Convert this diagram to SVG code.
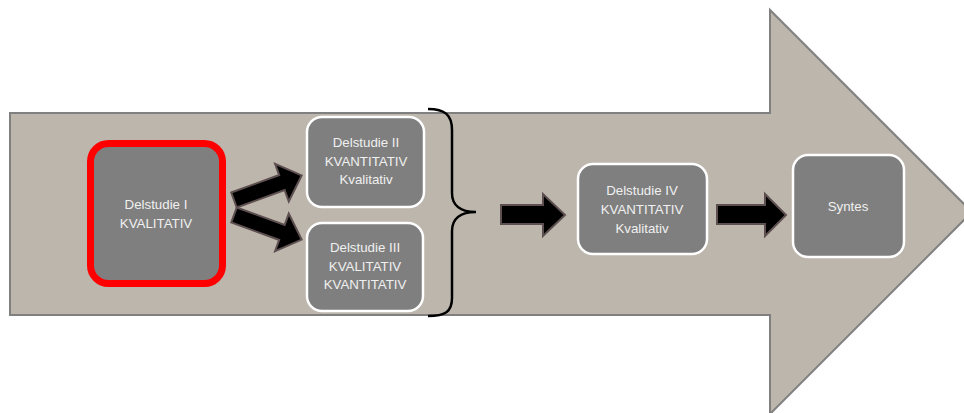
<svg xmlns="http://www.w3.org/2000/svg" width="964" height="413" viewBox="0 0 964 413">
<style>
.box{fill:#7f7f7f;stroke:#ffffff;stroke-width:2.5}
.lbl{font-family:"Liberation Sans",Arial,sans-serif;font-size:13.3px;fill:#f0f0f0;text-anchor:middle}
.arr{fill:#000000;stroke:#5e5050;stroke-width:2;stroke-linejoin:miter}
</style>
<rect width="964" height="413" fill="#ffffff"/>
<g id="main-arrow">
<polygon points="10,113 770,113 770,10 972,212 770,414 770,315 10,315" fill="#bdb6ad" stroke="#808080" stroke-width="2"/>
</g>
<g id="node-delstudie-1">
<rect x="90.5" y="143.5" width="132" height="140" rx="18" fill="#7f7f7f" stroke="#ff0000" stroke-width="7"/>
<text class="lbl" x="156" y="209">Delstudie I</text>
<text class="lbl" x="156" y="228">KVALITATIV</text>
</g>
<g id="node-delstudie-2">
<rect class="box" x="307" y="117" width="117" height="90" rx="15"/>
<text class="lbl" x="366" y="147">Delstudie II</text>
<text class="lbl" x="366" y="166">KVANTITATIV</text>
<text class="lbl" x="366" y="184">Kvalitativ</text>
</g>
<g id="node-delstudie-3">
<rect class="box" x="307" y="223" width="116" height="88" rx="15"/>
<text class="lbl" x="365" y="252">Delstudie III</text>
<text class="lbl" x="365" y="271">KVALITATIV</text>
<text class="lbl" x="365" y="289">KVANTITATIV</text>
</g>
<g id="node-delstudie-4">
<rect class="box" x="578" y="164" width="129" height="90" rx="15"/>
<text class="lbl" x="642" y="195">Delstudie IV</text>
<text class="lbl" x="642" y="214">KVANTITATIV</text>
<text class="lbl" x="642" y="233">Kvalitativ</text>
</g>
<g id="node-syntes">
<rect class="box" x="793" y="155" width="111" height="102" rx="15"/>
<text class="lbl" x="848" y="211">Syntes</text>
</g>
<g id="connectors">
<polygon class="arr" transform="translate(234,200) rotate(-20)" points="0,-8 51,-8 51,-20 72,0 51,20 51,8 0,8"/>
<polygon class="arr" transform="translate(234,215) rotate(20)" points="0,-8 51,-8 51,-20 72,0 51,20 51,8 0,8"/>
<path d="M428,109 C445,109 452,115 452,130 L452,193 C452,205 460,212 476,212 C460,212 452,219 452,231 L452,298 C452,312 445,316 428,316" fill="none" stroke="#000000" stroke-width="2.5"/>
<polygon class="arr" points="501,205 543,205 543,194 565,215 543,236 543,224 501,224"/>
<polygon class="arr" points="717,205 765,205 765,194 786,215 765,236 765,224 717,224"/>
</g>
</svg>
